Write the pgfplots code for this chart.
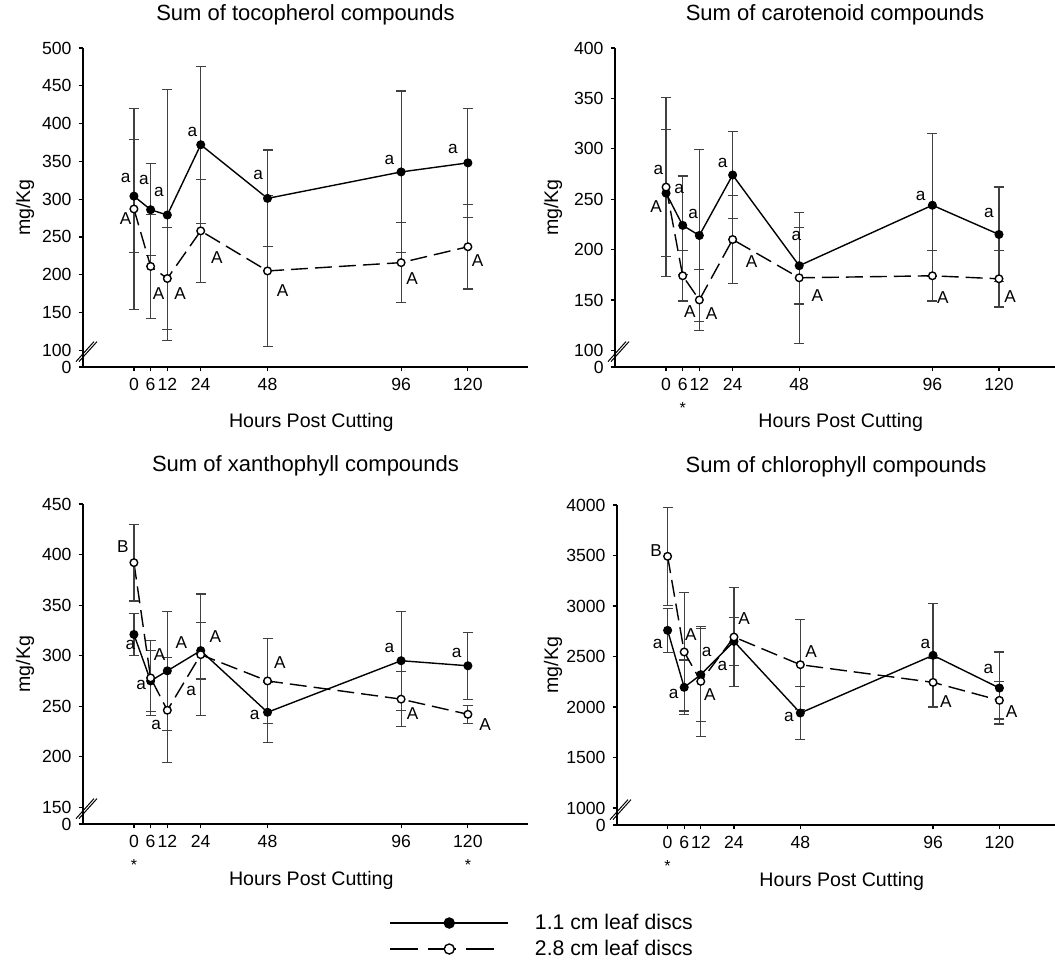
\documentclass[border=0pt]{standalone}
\usepackage{fontspec}
\setmainfont{Liberation Sans}
\usepackage{pgfplots}
\pgfplotsset{compat=1.18}

\pgfplotsset{
  panel/.style={
    scale only axis, clip=false,
    axis x line=bottom, axis y line=left,
    axis line style={-, line width=0.6pt},
    every tick/.style={black, line width=0.6pt},
    tick align=outside, major tick length=2.2pt,
    xtick={0,6,12,24,48,96,120},
    xticklabels={0,6,12,24,48,96,120},
    tick label style={font=\fontsize{8.8}{10}\selectfont},
    /pgf/number format/assume math mode=true,
    label style={font=\fontsize{9.8}{11}\selectfont},
    xlabel={Hours Post Cutting}, ylabel={mg/Kg},
    title style={font=\fontsize{11}{13}\selectfont, anchor=center},
    xlabel style={at={(axis description cs:0.513,-0.175)}, anchor=center},
  },
  small/.style={black, line width=0.7pt, mark=*, mark size=1.9pt,
    mark options={solid, fill=black},
    error bars/y dir=both, error bars/y explicit,
    error bars/error bar style={black!75, line width=0.6pt, solid},
    error bars/error mark options={rotate=90, mark size=2.5pt, black!75, line width=0.6pt}},
  large/.style={black, line width=0.7pt, dash pattern=on 8.5pt off 3.5pt,
    mark=*, mark size=1.9pt, mark options={solid, fill=white},
    error bars/y dir=both, error bars/y explicit,
    error bars/error bar style={black!75, line width=0.6pt, solid},
    error bars/error mark options={rotate=90, mark size=2.5pt, black!75, line width=0.6pt}},
  legsolid/.style={legend image code/.code={\draw[##1, mark=none] (0pt,0pt) -- (59pt,0pt);
    \draw[##1] plot coordinates {(29.5pt,0pt)};}},
  legdash/.style={legend image code/.code={\draw[##1, mark=none] (0pt,0pt) -- (52.5pt,0pt);
    \draw[##1] plot coordinates {(29.5pt,0pt)}; \path (59pt,0pt);}},
}
\newcommand{\lt}[3]{\node[font=\fontsize{8.6}{10}\selectfont, inner sep=0pt] at (axis cs:#1,#2) {#3};}
\newcommand{\brk}{\draw[line width=0.5pt, shift={(rel axis cs:0,0)}] (-3.5pt,2.7pt) -- (5.5pt,12.7pt) (-2pt,2.7pt) -- (7pt,12.7pt);}
\newcommand{\sigmark}[2]{\node[font=\fontsize{8}{9}\selectfont, inner sep=0pt] at ([yshift=-20.5pt]axis cs:#1,#2) {*};}

\begin{document}
\begin{tikzpicture}
\useasboundingbox (0,0) rectangle (527.5pt,480pt);

% tocopherol
\begin{axis}[panel, at={(41.5pt,296.5pt)}, anchor=south west,
  width=222.5pt, height=159.5pt, xmin=-18.3, xmax=141.6, ymin=77.9, ymax=500,
  ytick={77.9,100,150,200,250,300,350,400,450,500},
  yticklabels={0,100,150,200,250,300,350,400,450,500},
  title={Sum of tocopherol compounds},
  title style={at={(axis description cs:0.5,1.065)}},
  ylabel style={at={(axis description cs:-0.130,0.5)}, anchor=center}]
\addplot[small] table[x=x, y=y, y error=e] {
x y e
0 304 75
6 286 61
12 279 166
24 372 104
48 301 64
96 336 107
120 348 72
};
\addplot[large] table[x=x, y=y, y error=e] {
x y e
0 287 133
6 211 69
12 195 67
24 258 68
48 205 100
96 216 53
120 237 56
};
\lt{-3}{328}{a} \lt{3.6}{325}{a} \lt{9}{309}{a} \lt{21}{389}{a}
\lt{44.6}{332.5}{a} \lt{91.8}{352.3}{a} \lt{114.6}{366.8}{a}
\lt{-3}{274.3}{A} \lt{8.9}{175}{A} \lt{16.6}{175}{A} \lt{29.8}{222.2}{A}
\lt{53.4}{179.5}{A} \lt{100}{194.5}{A} \lt{123.5}{219.2}{A}
\brk
\end{axis}

% carotenoid
\begin{axis}[panel, at={(307.5pt,296.5pt)}, anchor=south west,
  width=220pt, height=159.5pt, xmin=-18.4, xmax=140.2, ymin=83.5, ymax=400,
  ytick={83.5,100,150,200,250,300,350,400},
  yticklabels={0,100,150,200,250,300,350,400},
  title={Sum of carotenoid compounds},
  title style={at={(axis description cs:0.5,1.065)}},
  ylabel style={at={(axis description cs:-0.141,0.5)}, anchor=center}]
\addplot[small] table[x=x, y=y, y error=e] {
x y e
0 256 63
6 224 49
12 214 85
24 274 43
48 184 38
96 244 71
120 215 47
};
\addplot[large] table[x=x, y=y, y error=e] {
x y e
0 262 89
6 174 25
12 150 30
24 210 44
48 172 65
96 174 25
120 171 28
};
\lt{-2.8}{278.6}{a} \lt{4.7}{260.5}{a} \lt{9.8}{235.6}{a} \lt{20.4}{286.2}{a}
\lt{47}{214}{a} \lt{91.8}{253}{a} \lt{116.4}{236.7}{a}
\lt{-3.6}{242.9}{A} \lt{8.6}{138}{A} \lt{16.4}{136.4}{A} \lt{30.8}{188.3}{A}
\lt{54.5}{154.5}{A} \lt{99.8}{152}{A} \lt{124}{153.6}{A}
\sigmark{6}{83.5}
\brk
\end{axis}

% xanthophyll
\begin{axis}[panel, at={(41.5pt,68pt)}, anchor=south west,
  width=222.5pt, height=160pt, xmin=-18.3, xmax=141.6, ymin=133.5, ymax=450,
  ytick={133.5,150,200,250,300,350,400,450},
  yticklabels={0,150,200,250,300,350,400,450},
  title={Sum of xanthophyll compounds},
  title style={at={(axis description cs:0.5,1.083)}},
  ylabel style={at={(axis description cs:-0.130,0.5)}, anchor=center},
  legend cell align=left,
  legend style={draw=none, fill=none, inner sep=0pt,
    font=\fontsize{10.6}{12}\selectfont,
    at={(axis description cs:0.688,-0.35)}, anchor=west,
    row sep=3pt,
    nodes={inner sep=0pt, anchor=west, text height=8pt, text depth=2pt},
    /tikz/every odd column/.append style={column sep=13pt}}]
\addplot[small, forget plot] table[x=x, y=y, y error=e] {
x y e
0 321 21
6 275 30
12 285 59
24 305 28
48 244 30
96 295 49
120 290 33
};
\addplot[large, forget plot] table[x=x, y=y, y error=e] {
x y e
0 392 38
6 278 37
12 246 52
24 301 60
48 275 42
96 257 27
120 242 9
};
\addlegendimage{legsolid, black, line width=0.7pt, mark=*, mark size=2.5pt, mark options={solid, fill=black}}
\addlegendentry{1.1 cm leaf discs}
\addlegendimage{legdash, black, line width=0.7pt, dash pattern=on 14pt off 5pt, mark=*, mark size=2.5pt,
  mark options={solid, fill=white}}
\addlegendentry{2.8 cm leaf discs}
\lt{-4}{408.1}{B} \lt{-1.3}{310.9}{a} \lt{9.2}{301}{A} \lt{2.6}{271.3}{a}
\lt{17}{312.5}{A} \lt{20.6}{264.7}{a} \lt{8}{231.7}{a} \lt{29.3}{319.1}{A}
\lt{52.4}{293.4}{A} \lt{43.4}{241.6}{a} \lt{91.8}{307.6}{a} \lt{100.1}{242.6}{A}
\lt{116}{302.6}{a} \lt{126.2}{231.7}{A}
\sigmark{0}{133.5} \sigmark{120}{133.5}
\brk
\end{axis}

% chlorophyll
\begin{axis}[panel, at={(308.5pt,67.5pt)}, anchor=south west,
  width=219pt, height=160pt, xmin=-18.3, xmax=140.1, ymin=832, ymax=4000,
  ytick={832,1000,1500,2000,2500,3000,3500,4000},
  yticklabels={0,1000,1500,2000,2500,3000,3500,4000},
  title={Sum of chlorophyll compounds},
  title style={at={(axis description cs:0.5,1.083)}},
  ylabel style={at={(axis description cs:-0.146,0.5)}, anchor=center}]
\addplot[small] table[x=x, y=y, y error=e] {
x y e
0 2759 220
6 2195 271
12 2320 460
24 2650 240
48 1941 264
96 2512 514
120 2188 357
};
\addplot[large] table[x=x, y=y, y error=e] {
x y e
0 3492 485
6 2545 585
12 2254 545
24 2693 490
48 2419 446
96 2244 240
120 2066 185
};
\lt{-4.2}{3548}{B} \lt{-3.6}{2627}{a} \lt{8.4}{2716}{A} \lt{2.2}{2132}{a}
\lt{14.1}{2545}{a} \lt{15.3}{2119}{A} \lt{19.8}{2403}{a} \lt{27.7}{2878}{A}
\lt{51.9}{2551}{A} \lt{43.9}{1898}{a} \lt{93.2}{2624}{a} \lt{100.6}{2050}{A}
\lt{116}{2380}{a} \lt{124.4}{1951}{A}
\sigmark{0}{832}
\brk
\end{axis}
\end{tikzpicture}
\end{document}
